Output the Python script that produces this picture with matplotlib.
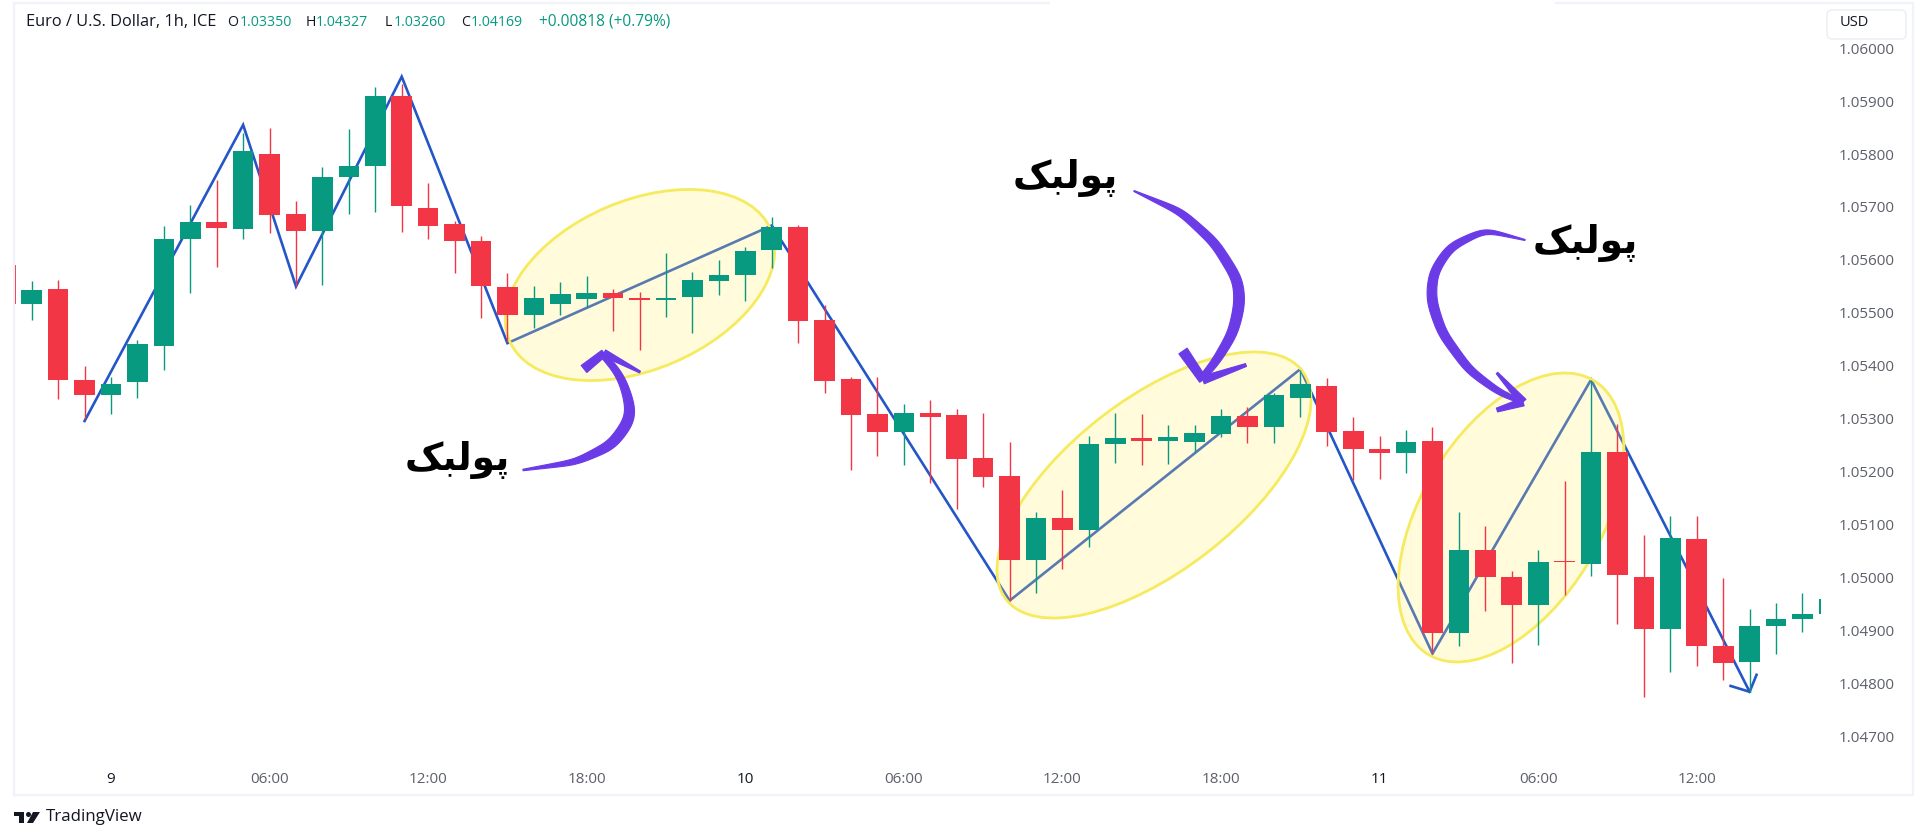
import numpy as np
import matplotlib
matplotlib.use('Agg')
import matplotlib.pyplot as plt
from matplotlib.patches import Ellipse, Polygon, Rectangle, FancyBboxPatch, Circle
from matplotlib.transforms import Affine2D

plt.rcParams['font.family'] = ['Open Sans', 'DejaVu Sans']

GREEN = '#089981'
RED = '#F23645'
BLUE = '#2456C8'
PURPLE = '#6A3BE6'
TEXT_GREY = '#5D606B'

# hourly candles, hour 0 is the "9" tick
hours = list(range(-4, 66))
opens = [1.05590, 1.05517, 1.05546, 1.05373, 1.05345, 1.05370, 1.05438, 1.05639, 1.05672, 1.05658,
         1.05800, 1.05686, 1.05654, 1.05757, 1.05778, 1.05909, 1.05699, 1.05667, 1.05636, 1.05549,
         1.05497, 1.05517, 1.05526, 1.05537, 1.05528, 1.05524, 1.05531, 1.05561, 1.05571, 1.05618,
         1.05663, 1.05487, 1.05375, 1.05309, 1.05276, 1.05311, 1.05307, 1.05226, 1.05193, 1.05034,
         1.05113, 1.05090, 1.05252, 1.05264, 1.05259, 1.05257, 1.05272, 1.05306, 1.05284, 1.05340,
         1.05362, 1.05277, 1.05243, 1.05236, 1.05259, 1.04896, 1.05053, 1.05002, 1.04948, 1.05032,
         1.05026, 1.05237, 1.05002, 1.04904, 1.05074, 1.04872, 1.04841, 1.04909, 1.04923, 1.04932]
highs = [1.05590, 1.05560, 1.05562, 1.05400, 1.05380, 1.05448, 1.05664, 1.05704, 1.05750, 1.05839,
         1.05849, 1.05712, 1.05775, 1.05847, 1.05926, 1.05933, 1.05745, 1.05674, 1.05645, 1.05576,
         1.05550, 1.05558, 1.05570, 1.05545, 1.05539, 1.05614, 1.05578, 1.05599, 1.05624, 1.05681,
         1.05666, 1.05515, 1.05380, 1.05379, 1.05328, 1.05336, 1.05318, 1.05311, 1.05256, 1.05124,
         1.05166, 1.05267, 1.05311, 1.05310, 1.05289, 1.05289, 1.05318, 1.05322, 1.05348, 1.05393,
         1.05378, 1.05304, 1.05268, 1.05279, 1.05284, 1.05124, 1.05098, 1.05013, 1.05052, 1.05182,
         1.05374, 1.05291, 1.05081, 1.05117, 1.05117, 1.05000, 1.04942, 1.04952, 1.04972, 1.04960]
lows = [1.05517, 1.05486, 1.05337, 1.05299, 1.05309, 1.05339, 1.05393, 1.05537, 1.05586, 1.05640,
        1.05650, 1.05550, 1.05553, 1.05687, 1.05691, 1.05652, 1.05639, 1.05576, 1.05490, 1.05446,
        1.05471, 1.05497, 1.05512, 1.05465, 1.05430, 1.05493, 1.05463, 1.05534, 1.05522, 1.05584,
        1.05443, 1.05348, 1.05204, 1.05230, 1.05213, 1.05179, 1.05130, 1.05172, 1.04957, 1.04971,
        1.05016, 1.05058, 1.05216, 1.05213, 1.05214, 1.05238, 1.05265, 1.05254, 1.05255, 1.05303,
        1.05249, 1.05185, 1.05186, 1.05197, 1.04858, 1.04871, 1.04937, 1.04840, 1.04874, 1.04968,
        1.05004, 1.04913, 1.04776, 1.04823, 1.04834, 1.04807, 1.04784, 1.04857, 1.04897, 1.04932]
closes = [1.05517, 1.05544, 1.05373, 1.05345, 1.05366, 1.05442, 1.05639, 1.05672, 1.05660, 1.05806,
          1.05685, 1.05654, 1.05757, 1.05778, 1.05909, 1.05701, 1.05665, 1.05635, 1.05550, 1.05496,
          1.05529, 1.05535, 1.05537, 1.05528, 1.05524, 1.05529, 1.05562, 1.05572, 1.05616, 1.05663,
          1.05484, 1.05372, 1.05308, 1.05276, 1.05311, 1.05304, 1.05224, 1.05191, 1.05034, 1.05113,
          1.05090, 1.05253, 1.05264, 1.05259, 1.05266, 1.05274, 1.05306, 1.05284, 1.05345, 1.05366,
          1.05276, 1.05243, 1.05236, 1.05256, 1.04896, 1.05053, 1.05002, 1.04948, 1.05030, 1.05030,
          1.05237, 1.05006, 1.04904, 1.05076, 1.04871, 1.04839, 1.04909, 1.04923, 1.04931, 1.04960]

# zigzag drawn by hand over the candles
zig_hours = [-1, 5, 7, 11, 15, 25, 34, 45, 50, 56, 62]
zig_prices = [1.05296, 1.05855, 1.05550, 1.05946, 1.05443, 1.05665, 1.04957, 1.05394, 1.04857, 1.05374, 1.04785]
tip_left = (61.28, 1.04796)
tip_right = (62.26, 1.04817)

price_ticks = [1.047, 1.048, 1.049, 1.050, 1.051, 1.052, 1.053, 1.054, 1.055, 1.056, 1.057, 1.058, 1.059, 1.060]
time_ticks = [0, 6, 12, 18, 24, 30, 36, 42, 48, 54, 60]
time_labels = ['9', '06:00', '12:00', '18:00', '10', '06:00', '12:00', '18:00', '11', '06:00', '12:00']
day_labels = ['9', '10', '11']

# annotation shapes, in image pixels (y down)
ellipse_centers = [(640, 285), (1154, 485), (1511, 517.5)]
ellipse_half_axes = [(142, 84.5), (187, 86), (160, 89.6)]
ellipse_angles = [23, 37.7, 58.8]

arrow1 = [(604, 356), (618, 372), (625, 387), (631, 410), (630, 420), (612, 445), (576, 462), (523, 470)]
arrow1_w = [6, 7, 8, 10, 11, 10, 6, 1.5]
arrow1_head = [[(584, 369), (604, 353)], [(604, 353), (640, 372)]]

arrow2 = [(1134, 191), (1181, 212), (1215, 243), (1238, 280), (1240, 303), (1233, 333), (1215, 363), (1202, 378)]
arrow2_w = [1, 7, 9, 10, 11, 10, 8, 6]
arrow2_head = [[(1183, 351), (1203, 380)], [(1203, 380), (1246, 365)]]

arrow3 = [(1525, 240), (1485, 230), (1450, 247), (1433, 273), (1431, 300), (1442, 333), (1469, 370), (1500, 393), (1520, 401)]
arrow3_w = [1, 5, 8, 9, 10, 9, 8, 6, 4]
arrow3_head = [[(1497, 373), (1523, 402)], [(1523, 402), (1497, 410)]]

label_text = '\uFB8F\uFE92\uFEDF\uFEEE\uFB58'  # پولبک, glyphs in visual order
label_pos = [(457, 460), (1065, 178), (1585, 243)]

header_parts = [(25.5, 'Euro / U.S. Dollar, 1h, ICE', '#131722', 11.8),
                (227, 'O', '#131722', 10.2), (240, '1.03350', GREEN, 10.2),
                (306, 'H', '#131722', 10.2), (316, '1.04327', GREEN, 10.2),
                (385, 'L', '#131722', 10.2), (394, '1.03260', GREEN, 10.2),
                (461, 'C', '#131722', 10.2), (471, '1.04169', GREEN, 10.2),
                (539, '+0.00818 (+0.79%)', GREEN, 11.2)]


def smooth(points, widths, sigma=9):
    # drawn arrows only: resample by length, then blur the kinks out
    pts = np.array(points, dtype=float)
    seg = np.hypot(*np.diff(pts, axis=0).T)
    s = np.concatenate([[0], np.cumsum(seg)])
    t = np.arange(0, s[-1], 1.0)
    t = np.append(t, s[-1])
    x = np.interp(t, s, pts[:, 0])
    y = np.interp(t, s, pts[:, 1])
    w = np.interp(t, s, widths)
    r = int(3*sigma)
    k = np.exp(-0.5*(np.arange(-r, r+1)/sigma)**2)
    k = k/k.sum()
    out = []
    for v in (x, y, w):
        # odd reflection keeps the ends where they were placed
        pad = np.concatenate([2*v[0]-v[r:0:-1], v, 2*v[-1]-v[-2:-r-2:-1]])
        out.append(np.convolve(pad, k, mode='valid'))
    c = np.column_stack(out[:2])
    return c, np.maximum(out[2], 0.5)


def stroke(ax, px, points, widths, smoothed=True):
    if smoothed:
        c, w = smooth(points, widths)
    else:
        c, w = np.array(points, dtype=float), np.array(widths, dtype=float)
    d = np.gradient(c, axis=0)
    d = d / np.maximum(np.hypot(d[:, 0], d[:, 1]), 1e-6)[:, None]
    nrm = np.column_stack([-d[:, 1], d[:, 0]])
    poly = np.vstack([c + nrm*w[:, None]/2, (c - nrm*w[:, None]/2)[::-1]])
    ax.add_patch(Polygon(poly, closed=True, fc=PURPLE, ec=PURPLE, lw=0.8, joinstyle='round',
                         transform=px, zorder=6, clip_on=False))


def main():
    fig = plt.figure(figsize=(19.2, 8.4), dpi=100, facecolor='white')
    px = Affine2D().scale(1, -1).translate(0, 840)

    # chart pane spans x 14..1821, y 3..758 of the image
    ax = fig.add_axes([14/1920, 1-758/840, (1821-14)/1920, 755/840])
    ax.set_xlim(-3.67, 64.70)
    ax.set_ylim(1.04660, 1.06085)
    for s in ax.spines.values():
        s.set_visible(False)

    ax.plot(zig_hours, zig_prices, color=BLUE, lw=1.9, zorder=1, solid_joinstyle='miter')
    ax.plot([tip_left[0], zig_hours[-1], tip_right[0]], [tip_left[1], zig_prices[-1], tip_right[1]],
            color=BLUE, lw=1.9, zorder=1)

    for c, (a, b), ang in zip(ellipse_centers, ellipse_half_axes, ellipse_angles):
        ax.add_patch(Ellipse(c, 2*a, 2*b, angle=-ang, transform=px, zorder=2,
                             fc=matplotlib.colors.to_rgba('#FFF06A', 0.24), ec='#F6EA5E', lw=2))

    colors = [GREEN if c >= o else RED for o, c in zip(opens, closes)]
    ax.vlines(hours, lows, highs, colors=colors, lw=1.0, zorder=3)
    bottoms = [min(o, c) for o, c in zip(opens, closes)]
    tops = [abs(o-c) for o, c in zip(opens, closes)]
    ax.bar(hours, tops, bottom=bottoms, width=0.78, color=colors, lw=0, zorder=4)

    ax.yaxis.tick_right()
    ax.set_yticks(price_ticks)
    ax.set_yticklabels(['%.5f' % p for p in price_ticks])
    ax.tick_params(axis='y', length=0, pad=13, labelsize=11, labelcolor=TEXT_GREY)
    ax.set_xticks(time_ticks)
    ax.set_xticklabels(time_labels)
    ax.tick_params(axis='x', length=0, pad=10, labelsize=11, labelcolor=TEXT_GREY)
    for t in ax.get_xticklabels():
        if t.get_text() in day_labels:
            t.set_color('#131722')

    for pts, w in [(arrow1, arrow1_w), (arrow2, arrow2_w), (arrow3, arrow3_w)]:
        stroke(ax, px, pts, w)
    stroke(ax, px, arrow1_head[0], [9, 7], False)
    stroke(ax, px, arrow1_head[1], [7, 2], False)
    stroke(ax, px, arrow2_head[0], [10, 8], False)
    stroke(ax, px, arrow2_head[1], [8, 3], False)
    stroke(ax, px, arrow3_head[0], [2, 8], False)
    stroke(ax, px, arrow3_head[1], [8, 4], False)

    for x, y in label_pos:
        fig.text(x, y, label_text, transform=px, family='DejaVu Sans', fontweight='bold', fontsize=27,
                 color='black', ha='center', va='center', zorder=7)

    for x, s, col, size in header_parts:
        fig.text(x, 22, s, transform=px, fontsize=size, color=col, va='center', ha='left')

    # pane border, the top edge is wiped in the middle of the image
    fig.add_artist(Rectangle((14, 3), 1899, 792, transform=px, fc='none', ec='#F0F3FA', lw=1.6))
    fig.add_artist(Rectangle((1050, 0), 505, 6, transform=px, fc='white', ec='none'))

    # currency button sits on top of the first price label
    fig.add_artist(Rectangle((1825, 8), 83, 36, transform=px, fc='white', ec='none', zorder=8))
    fig.add_artist(FancyBboxPatch((1827, 10), 79, 29, boxstyle='round,pad=0,rounding_size=5', transform=px,
                                  fc='white', ec='#EEF0F5', lw=1.2, zorder=9))
    fig.text(1854, 23, 'USD', transform=px, fontsize=10.5, color='#131722', va='center', ha='center', zorder=10)

    # TradingView mark
    logo = [[(14, 812), (24, 812), (24, 823), (18.5, 823), (18.5, 816), (14, 816)],
            [(33, 812), (40, 812), (33, 823), (27, 823)]]
    for shape in logo:
        fig.add_artist(Polygon(shape, closed=True, transform=px, fc='#131722', ec='none'))
    fig.add_artist(Circle((28.5, 814.5), 2.5, transform=px, fc='#131722', ec='none'))
    fig.text(46, 817, 'TradingView', transform=px, fontsize=12.2, color='#131722', va='center', ha='left')

    fig.savefig('out.png', dpi=100)


if __name__ == '__main__':
    main()
